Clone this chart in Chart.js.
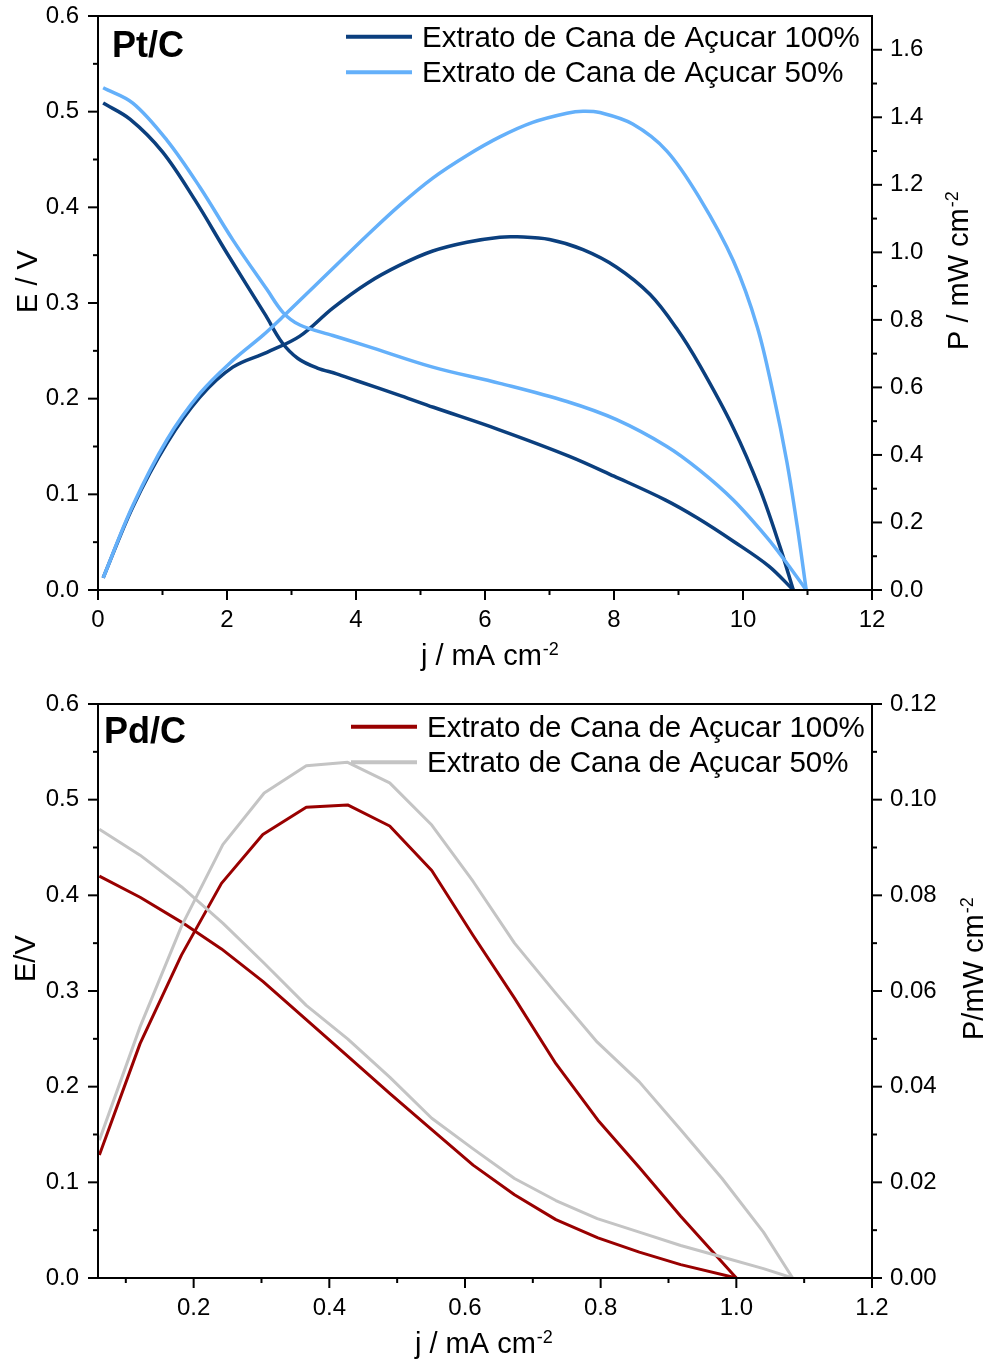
<!DOCTYPE html>
<html>
<head>
<meta charset="utf-8">
<script src="https://cdn.jsdelivr.net/npm/chart.js@4/dist/chart.umd.min.js"></script>
<style>
  html, body { margin: 0; padding: 0; background: #fff; }
  #wrap { position: relative; width: 993px; height: 1364px; }
  canvas { position: absolute; left: 0; }
  #grafico-pt { top: 0; }
  #grafico-pd { top: 680px; }
</style>
</head>
<body>
<div id="wrap">
  <canvas id="grafico-pt" width="993" height="680"></canvas>
  <canvas id="grafico-pd" width="993" height="684"></canvas>
</div>
<script>
const FONTE = '"Liberation Sans", Arial, sans-serif';

const rotulos = ["Extrato de Cana de Açucar 100%", "Extrato de Cana de Açucar 50%"];

//Pt/C - curvas E x j e P x j
const ptJ_E100 = [0.08, 0.5, 1.0, 1.5, 2.0, 2.6, 2.85, 3.1, 3.4, 3.7, 4.0, 4.7, 5.2, 6.2, 7.3, 8.0, 8.8, 9.3, 9.85, 10.4, 10.78];
const ptE100 = [0.509, 0.492, 0.458, 0.408, 0.352, 0.287, 0.259, 0.242, 0.232, 0.226, 0.219, 0.203, 0.191, 0.168, 0.140, 0.119, 0.094, 0.075, 0.051, 0.025, 0.0];
const ptJ_P100 = [0.08, 0.54, 1.07, 1.58, 2.09, 2.62, 3.13, 3.64, 4.17, 4.68, 5.19, 5.72, 6.23, 6.5, 7.0, 7.52, 8.04, 8.56, 8.97, 9.33, 9.85, 10.26, 10.57, 10.78];
const ptP100 = [0.036, 0.246, 0.435, 0.571, 0.660, 0.704, 0.752, 0.835, 0.908, 0.962, 1.004, 1.030, 1.045, 1.046, 1.038, 1.008, 0.956, 0.875, 0.775, 0.665, 0.480, 0.300, 0.130, 0.0];
const ptJ_E50 = [0.08, 0.54, 1.07, 1.58, 2.09, 2.62, 2.87, 3.13, 3.64, 4.17, 5.19, 6.23, 7.27, 8.04, 8.82, 9.33, 9.85, 10.37, 10.68, 10.98];
const ptE50 = [0.525, 0.509, 0.470, 0.421, 0.366, 0.314, 0.290, 0.277, 0.266, 0.255, 0.233, 0.216, 0.197, 0.178, 0.150, 0.125, 0.094, 0.055, 0.028, 0.0];
const ptJ_P50 = [0.08, 0.54, 1.07, 1.58, 2.09, 2.56, 2.87, 3.64, 4.17, 4.68, 5.19, 5.72, 6.23, 6.74, 7.27, 7.52, 7.78, 8.29, 8.82, 9.33, 9.85, 10.22, 10.47, 10.68, 10.84, 10.98];
const ptP50 = [0.036, 0.25, 0.445, 0.582, 0.68, 0.755, 0.81, 0.952, 1.05, 1.14, 1.22, 1.287, 1.342, 1.385, 1.412, 1.418, 1.414, 1.38, 1.30, 1.16, 0.975, 0.78, 0.58, 0.38, 0.19, 0.0];

//Pd/C - pontos medidos
const pdJ100 = [0.061, 0.121, 0.182, 0.241, 0.302, 0.366, 0.427, 0.489, 0.551, 0.612, 0.673, 0.734, 0.796, 0.857, 0.918, 1.0];
const pdE100 = [0.420, 0.398, 0.372, 0.344, 0.310, 0.270, 0.232, 0.193, 0.155, 0.118, 0.087, 0.061, 0.042, 0.027, 0.014, 0.0];
const pdP100 = [0.0257, 0.049, 0.0675, 0.0825, 0.0927, 0.0984, 0.0989, 0.0945, 0.0852, 0.0716, 0.0585, 0.0448, 0.033, 0.0231, 0.0129, 0.0];
const pdJ50 = [0.061, 0.121, 0.182, 0.243, 0.304, 0.366, 0.427, 0.489, 0.551, 0.612, 0.673, 0.734, 0.795, 0.857, 0.918, 0.979, 1.040, 1.083];
const pdE50 = [0.469, 0.442, 0.409, 0.371, 0.329, 0.285, 0.250, 0.210, 0.167, 0.135, 0.104, 0.081, 0.062, 0.048, 0.034, 0.022, 0.0098, 0.0];
const pdP50 = [0.0288, 0.0525, 0.0735, 0.0906, 0.1014, 0.1071, 0.1078, 0.1035, 0.0947, 0.0829, 0.070, 0.0595, 0.0493, 0.041, 0.031, 0.0208, 0.0096, 0.0];

//ticks
const ptXTicks = [0, 2, 4, 6, 8, 10, 12];
const ptXMenores = [1, 3, 5, 7, 9, 11];
const eTicks = [0, 0.1, 0.2, 0.3, 0.4, 0.5, 0.6];
const eMenores = [0.05, 0.15, 0.25, 0.35, 0.45, 0.55];
const ptPTicks = [0, 0.2, 0.4, 0.6, 0.8, 1.0, 1.2, 1.4, 1.6];
const ptPMenores = [0.1, 0.3, 0.5, 0.7, 0.9, 1.1, 1.3, 1.5];
const pdXTicks = [0.2, 0.4, 0.6, 0.8, 1.0, 1.2];
const pdXMenores = [0.1, 0.3, 0.5, 0.7, 0.9, 1.1];
const pdPTicks = [0, 0.02, 0.04, 0.06, 0.08, 0.10, 0.12];
const pdPMenores = [0.01, 0.03, 0.05, 0.07, 0.09, 0.11];

const pontos = (xs, ys) => xs.map((x, i) => ({ x: x, y: ys[i] }));

function serie(label, xs, ys, cor, eixoY, largura, tensao) {
  return {
    label: label,
    data: pontos(xs, ys),
    borderColor: cor,
    backgroundColor: cor,
    borderWidth: largura,
    pointRadius: 0,
    fill: false,
    yAxisID: eixoY,
    tension: tensao,
    borderJoinStyle: "round",
  };
}

function eixo(pos, min, max, majors, tl, pad, casas, tamanho) {
  return {
    type: "linear",
    position: pos,
    min: min,
    max: max,
    grid: { display: false, drawTicks: true, tickLength: tl },
    border: { display: false },
    ticks: {
      autoSkip: false,
      padding: pad,
      maxRotation: 0,
      color: "#000",
      font: { family: FONTE, size: 24 },
      callback: (v) => Number(v).toFixed(casas),
    },
    afterBuildTicks: (s) => { s.ticks = majors.map((v) => ({ value: v })); },
    afterFit: (s) => {
      if (s.isHorizontal()) s.height = tamanho; else s.width = tamanho;
      s.paddingTop = 0; s.paddingBottom = 0; s.paddingLeft = 0; s.paddingRight = 0;
    },
  };
}

// texto com sobrescrito (cm-2)
function escreve(ctx, x, y, rot, txt, sup) {
  ctx.save();
  ctx.translate(x, y);
  ctx.rotate(rot * Math.PI / 180);
  ctx.fillStyle = "#000";
  ctx.textAlign = "left";
  ctx.textBaseline = "alphabetic";
  ctx.font = "29px " + FONTE;
  ctx.fillText(txt, 0, 0);
  if (sup) {
    const w = ctx.measureText(txt).width;
    ctx.font = "18px " + FONTE;
    ctx.fillText(sup, w + 1, -10);
  }
  ctx.restore();
}

const molduraPlugin = {
  id: "moldura",
  afterDraw(chart, args, op) {
    const { ctx, chartArea: a, scales } = chart;
    ctx.save();
    ctx.strokeStyle = "#000";
    ctx.lineWidth = 2;
    ctx.beginPath();
    ctx.rect(a.left, a.top, a.right - a.left, a.bottom - a.top);
    ctx.stroke();

    const marca = (id, vals, len) => {
      const s = scales[id];
      vals.forEach((v) => {
        const p = s.getPixelForValue(v);
        ctx.beginPath();
        if (id === "x") { ctx.moveTo(p, a.bottom); ctx.lineTo(p, a.bottom + len); }
        else if (id === "y") { ctx.moveTo(a.left, p); ctx.lineTo(a.left - len, p); }
        else { ctx.moveTo(a.right, p); ctx.lineTo(a.right + len, p); }
        ctx.stroke();
      });
    };
    ["x", "y", "y2"].forEach((id) => {
      marca(id, scales[id].ticks.map((t) => t.value), 10);
      marca(id, op.menores[id], 5);
    });

    // rótulo do catalisador
    ctx.fillStyle = "#000";
    ctx.font = "bold 36px " + FONTE;
    ctx.textBaseline = "alphabetic";
    ctx.fillText(op.rotulo.texto, op.rotulo.x, op.rotulo.y);

    // legenda
    op.legenda.y.forEach((y, i) => {
      ctx.strokeStyle = op.legenda.cores[i];
      ctx.lineWidth = 4;
      ctx.beginPath();
      ctx.moveTo(op.legenda.x0, y);
      ctx.lineTo(op.legenda.x1, y);
      ctx.stroke();
      ctx.fillStyle = "#000";
      ctx.font = "29.5px " + FONTE;
      ctx.fillText(rotulos[i], op.legenda.xt, y + 10);
    });
    ctx.restore();

    op.titulos.forEach((t) => escreve(ctx, t.x, t.y, t.rot, t.txt, t.sup));
  },
};

function criarGrafico(id, datasets, escalas, padTop, moldura) {
  new Chart(document.getElementById(id), {
    type: "line",
    data: { datasets: datasets },
    options: {
      responsive: false,
      devicePixelRatio: 1,
      animation: false,
      layout: { padding: { top: padTop, left: 0, right: 0, bottom: 0 } },
      scales: escalas,
      plugins: { legend: { display: false }, tooltip: { enabled: false }, moldura: moldura },
    },
    plugins: [molduraPlugin],
  });
}

const azulEscuro = "#0b3f7e";
const azulClaro = "#64b0fa";
const vermelho = "#990000";
const cinza = "#c4c4c4";

criarGrafico("grafico-pt", [
  serie(rotulos[1], ptJ_E50, ptE50, azulClaro, "y", 3.5, 0.35),
  serie(rotulos[1], ptJ_P50, ptP50, azulClaro, "y2", 3.5, 0.35),
  serie(rotulos[0], ptJ_E100, ptE100, azulEscuro, "y", 3.5, 0.35),
  serie(rotulos[0], ptJ_P100, ptP100, azulEscuro, "y2", 3.5, 0.35),
], {
  x: eixo("bottom", 0, 12, ptXTicks, 10, 6, 0, 90),
  y: eixo("left", 0, 0.6, eTicks, 11, 8, 1, 98),
  y2: eixo("right", 0, 1.7, ptPTicks, 11, 7, 1, 121),
}, 16, {
  menores: { x: ptXMenores, y: eMenores, y2: ptPMenores },
  rotulo: { texto: "Pt/C", x: 112, y: 57 },
  legenda: { x0: 346, x1: 412, xt: 422, y: [36.7, 72.3], cores: [azulEscuro, azulClaro] },
  titulos: [
    { x: 421, y: 665, rot: 0, txt: "j / mA cm", sup: "-2" },
    { x: 37, y: 313, rot: -90, txt: "E / V" },
    { x: 968, y: 350, rot: -90, txt: "P / mW cm", sup: "-2" },
  ],
});

criarGrafico("grafico-pd", [
  serie(rotulos[1], pdJ50, pdE50, cinza, "y", 3, 0),
  serie(rotulos[1], pdJ50, pdP50, cinza, "y2", 3, 0),
  serie(rotulos[0], pdJ100, pdE100, vermelho, "y", 3, 0),
  serie(rotulos[0], pdJ100, pdP100, vermelho, "y2", 3, 0),
], {
  x: eixo("bottom", 0.059, 1.2, pdXTicks, 10, 6, 1, 86),
  y: eixo("left", 0, 0.6, eTicks, 11, 8, 1, 98),
  y2: eixo("right", 0, 0.12, pdPTicks, 11, 7, 2, 121),
}, 24, {
  menores: { x: pdXMenores, y: eMenores, y2: pdPMenores },
  rotulo: { texto: "Pd/C", x: 104, y: 63 },
  legenda: { x0: 351, x1: 417, xt: 427, y: [46.7, 82.3], cores: [vermelho, cinza] },
  titulos: [
    { x: 415, y: 673, rot: 0, txt: "j / mA cm", sup: "-2" },
    { x: 35, y: 302, rot: -90, txt: "E/V" },
    { x: 983, y: 360, rot: -90, txt: "P/mW cm", sup: "-2" },
  ],
});
</script>
</body>
</html>
